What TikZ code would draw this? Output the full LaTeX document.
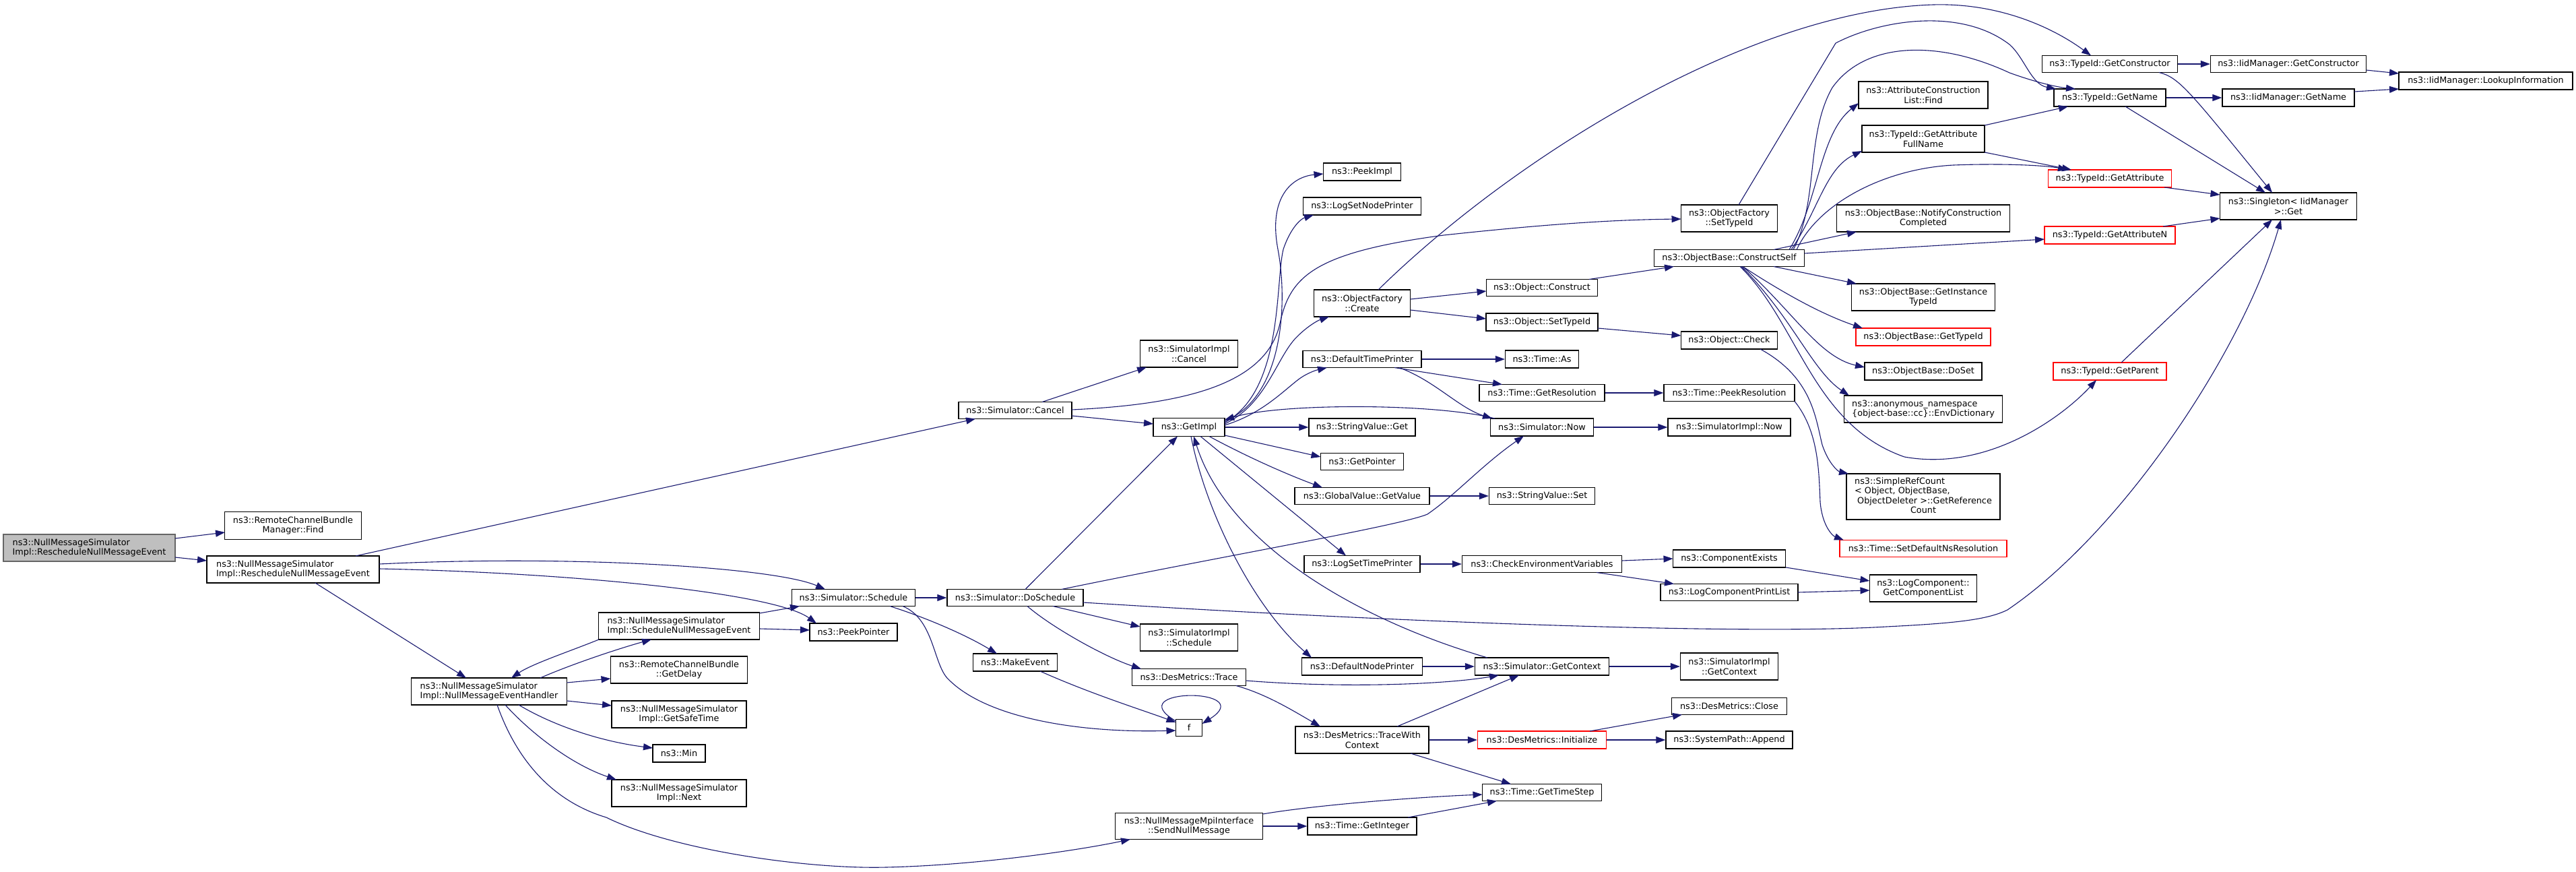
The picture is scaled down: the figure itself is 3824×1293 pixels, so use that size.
\documentclass[tikz,border=0pt]{standalone}
\usepackage{fontspec}
\setmainfont{DejaVu Sans}
\usetikzlibrary{arrows.meta,calc}
\definecolor{edgec}{RGB}{25,25,112}
\definecolor{rootfill}{RGB}{191,191,191}
\definecolor{rootline}{RGB}{102,102,102}
\tikzset{
  box/.style={draw=black, line width=1.3pt, fill=white, inner sep=0pt,
    font=\fontsize{12.8}{14.5}\selectfont, align=center},
  rbox/.style={box, draw=red},
  root/.style={box, fill=rootfill, draw=rootline},
  wh/.style 2 args={minimum width=#1pt, minimum height=#2pt},
  edge/.style={draw=edgec, line width=1.1pt, -{Triangle[length=14pt,width=10pt]}},
}
\begin{document}
\begin{tikzpicture}[x=1pt,y=-1pt]
\useasboundingbox (0,0) rectangle (3824,1293);
\fill[white] (0,0) rectangle (3824,1293);

% ---------- nodes ----------
\node[root, wh={255}{40}, align=left] (n0) at (132.5,813) {ns3::NullMessageSimulator\\Impl::RescheduleNullMessageEvent};
\node[box, wh={203}{41}] (find) at (435,780) {ns3::RemoteChannelBundle\\Manager::Find};
\node[box, wh={256}{40}, align=left] (n1) at (435,845) {ns3::NullMessageSimulator\\Impl::RescheduleNullMessageEvent};
\node[box, wh={231}{40}, align=left] (handler) at (726,1026) {ns3::NullMessageSimulator\\Impl::NullMessageEventHandler};
\node[box, wh={239}{40}, align=left] (snme) at (1008,929) {ns3::NullMessageSimulator\\Impl::ScheduleNullMessageEvent};
\node[box, wh={203}{40}] (getdelay) at (1008,994) {ns3::RemoteChannelBundle\\::GetDelay};
\node[box, wh={200}{40}] (safetime) at (1008,1060) {ns3::NullMessageSimulator\\Impl::GetSafeTime};
\node[box, wh={78}{26}] (min) at (1008,1118) {ns3::Min};
\node[box, wh={200}{40}] (next) at (1008,1177) {ns3::NullMessageSimulator\\Impl::Next};
\node[box, wh={168}{25}] (cancel) at (1507,609) {ns3::Simulator::Cancel};
\node[box, wh={145}{40}] (simcancel) at (1765,525) {ns3::SimulatorImpl\\::Cancel};
\node[box, wh={106}{27}] (getimpl) at (1765,634) {ns3::GetImpl};
\node[box, wh={183}{25}] (schedule) at (1267,887) {ns3::Simulator::Schedule};
\node[box, wh={202}{25}] (doschedule) at (1507,887) {ns3::Simulator::DoSchedule};
\node[box, wh={130}{26}] (peekpointer) at (1267,938) {ns3::PeekPointer};
\node[box, wh={125}{26}] (makeevent) at (1507,983) {ns3::MakeEvent};
\node[box, wh={145}{40}] (simschedule) at (1765,946) {ns3::SimulatorImpl\\::Schedule};
\node[box, wh={169}{25}] (trace) at (1765,1005) {ns3::DesMetrics::Trace};
\node[box, wh={39}{25}] (f) at (1765,1080) {f};
\node[box, wh={219}{39}] (sendnull) at (1765,1226) {ns3::NullMessageMpiInterface\\::SendNullMessage};
\node[box, wh={115}{26}] (peekimpl) at (2022,255) {ns3::PeekImpl};
\node[box, wh={175}{26}] (lognodep) at (2022,306) {ns3::LogSetNodePrinter};
\node[box, wh={143}{40}] (create) at (2022,450) {ns3::ObjectFactory\\::Create};
\node[box, wh={176}{25}] (dtp) at (2022,533) {ns3::DefaultTimePrinter};
\node[box, wh={158}{26}] (svget) at (2022,634) {ns3::StringValue::Get};
\node[box, wh={123}{25}] (getpointer) at (2022,685) {ns3::GetPointer};
\node[box, wh={200}{25}] (getvalue) at (2022,736) {ns3::GlobalValue::GetValue};
\node[box, wh={172}{25}] (logtimep) at (2022,837) {ns3::LogSetTimePrinter};
\node[box, wh={179}{26}] (dnp) at (2022,989) {ns3::DefaultNodePrinter};
\node[box, wh={198}{40}] (twc) at (2022,1098) {ns3::DesMetrics::TraceWith\\Context};
\node[box, wh={162}{26}] (getinteger) at (2022,1226) {ns3::Time::GetInteger};
\node[box, wh={165}{25}] (construct) at (2289,427) {ns3::Object::Construct};
\node[box, wh={166}{26}] (osettypeid) at (2289,478) {ns3::Object::SetTypeId};
\node[box, wh={109}{26}] (timeas) at (2289,533) {ns3::Time::As};
\node[box, wh={186}{25}] (getres) at (2289,583) {ns3::Time::GetResolution};
\node[box, wh={153}{26}] (now) at (2289,634) {ns3::Simulator::Now};
\node[box, wh={157}{25}] (svset) at (2289,736) {ns3::StringValue::Set};
\node[box, wh={237}{25}] (checkenv) at (2289,837) {ns3::CheckEnvironmentVariables};
\node[box, wh={199}{26}] (getcontext) at (2289,989) {ns3::Simulator::GetContext};
\node[rbox, wh={191}{26}] (init) at (2289,1098) {ns3::DesMetrics::Initialize};
\node[box, wh={177}{25}] (timestep) at (2289,1176) {ns3::Time::GetTimeStep};
\node[box, wh={143}{40}] (ofsettypeid) at (2567,324) {ns3::ObjectFactory\\::SetTypeId};
\node[box, wh={223}{25}] (constructself) at (2567,383) {ns3::ObjectBase::ConstructSelf};
\node[box, wh={143}{26}] (check) at (2567,505) {ns3::Object::Check};
\node[box, wh={194}{25}] (peekres) at (2567,583) {ns3::Time::PeekResolution};
\node[box, wh={182}{26}] (simnow) at (2567,634) {ns3::SimulatorImpl::Now};
\node[box, wh={167}{26}] (compexists) at (2567,829) {ns3::ComponentExists};
\node[box, wh={204}{25}] (printlist) at (2567,879) {ns3::LogComponentPrintList};
\node[box, wh={145}{40}] (simgetcontext) at (2567,989) {ns3::SimulatorImpl\\::GetContext};
\node[box, wh={171}{25}] (close) at (2567,1048) {ns3::DesMetrics::Close};
\node[box, wh={188}{26}] (append) at (2567,1098) {ns3::SystemPath::Append};
\node[box, wh={192}{40}] (acfind) at (2855,141) {ns3::AttributeConstruction\\List::Find};
\node[box, wh={182}{40}] (fullname) at (2855,206) {ns3::TypeId::GetAttribute\\FullName};
\node[box, wh={257}{40}] (notify) at (2855,324) {ns3::ObjectBase::NotifyConstruction\\Completed};
\node[box, wh={213}{40}] (instance) at (2855,441) {ns3::ObjectBase::GetInstance\\TypeId};
\node[rbox, wh={200}{26}] (obtypeid) at (2855,500) {ns3::ObjectBase::GetTypeId};
\node[box, wh={174}{26}] (doset) at (2855,551) {ns3::ObjectBase::DoSet};
\node[box, wh={235}{40}, align=left] (envdict) at (2855,607) {ns3::anonymous\_namespace\\\{object-base::cc\}::EnvDictionary};
\node[box, wh={228}{68}] (refcount) at (2855,737) {\begin{tabular}{@{}l@{}}ns3::SimpleRefCount\\< Object, ObjectBase,\\\ ObjectDeleter >::GetReference\\\multicolumn{1}{@{}c@{}}{Count}\end{tabular}};
\node[rbox, wh={248}{25}] (setdefault) at (2855,814) {ns3::Time::SetDefaultNsResolution};
\node[box, wh={159}{40}] (complist) at (2855,873) {ns3::LogComponent::\\GetComponentList};
\node[box, wh={201}{25}] (getctor) at (3132,95) {ns3::TypeId::GetConstructor};
\node[box, wh={166}{26}] (getname) at (3132,145) {ns3::TypeId::GetName};
\node[rbox, wh={183}{26}] (getattr) at (3132,265) {ns3::TypeId::GetAttribute};
\node[rbox, wh={194}{26}] (getattrn) at (3132,349) {ns3::TypeId::GetAttributeN};
\node[rbox, wh={168}{26}] (getparent) at (3132,551) {ns3::TypeId::GetParent};
\node[box, wh={231}{25}] (iidctor) at (3397,95) {ns3::IidManager::GetConstructor};
\node[box, wh={196}{26}] (iidname) at (3397,145) {ns3::IidManager::GetName};
\node[box, wh={203}{40}] (singleton) at (3397,306) {ns3::Singleton< IidManager\\ >::Get};
\node[box, wh={258}{26}] (lookup) at (3690,120) {ns3::IidManager::LookupInformation};

% ---------- edges ----------
\draw[edge] ($(n0)+(127.5,-14)$) -- ($(find)+(-101,10)$);
\draw[edge] ($(n0)+(127.5,14)$) -- ($(n1)+(-128,-13)$);
\draw[edge] ($(n1)+(93,-20)$) -- ($(cancel)+(-59,12.5)$);
\draw[edge] ($(n1)+(128,-8)$) .. controls (850,823) and (1150,842) .. ($(schedule)+(-42,-12.5)$);
\draw[edge] ($(n1)+(128,-1)$) .. controls (850,850) and (1150,880) .. ($(peekpointer)+(-55,-13)$);
\draw[edge] ($(n1)+(33,20)$) -- ($(handler)+(-34,-20)$);
\draw[edge] ($(handler)+(76,-20)$) .. controls (850,985) and (920,962) .. ($(snme)+(-41,20)$);
\draw[edge] ($(snme)+(-119,20)$) .. controls (850,965) and (790,985) .. ($(handler)+(33,-20)$);
\draw[edge] ($(handler)+(115.5,-13)$) -- ($(getdelay)+(-101.5,13)$);
\draw[edge] ($(handler)+(115.5,14)$) -- ($(safetime)+(-100,-13)$);
\draw[edge] ($(handler)+(44,20)$) .. controls (820,1076) and (890,1100) .. ($(min)+(-39,-8)$);
\draw[edge] ($(handler)+(24,20)$) .. controls (790,1090) and (850,1135) .. ($(next)+(-93,-20)$);
\draw[edge] ($(handler)+(12,20)$) .. controls (775,1150) and (840,1195) .. (900,1213)
   .. controls (1000,1262) and (1200,1290) .. (1315,1287)
   .. controls (1450,1284) and (1600,1262) .. ($(sendnull)+(-87,19.5)$);
\draw[edge] ($(snme)+(119.5,-19)$) -- ($(schedule)+(-80,12.5)$);
\draw[edge] ($(snme)+(119.5,4)$) -- ($(peekpointer)+(-65,-3)$);
\draw[edge] (schedule.east) -- (doschedule.west);
\draw[edge] ($(schedule)+(54,12.5)$) .. controls (1370,915) and (1430,940) .. ($(makeevent)+(-27,-13)$);
\draw[edge] ($(schedule)+(73,12.5)$) .. controls (1385,918) and (1385,980) .. (1405,1005)
   .. controls (1460,1065) and (1600,1088) .. ($(f)+(-19.5,4)$);
\draw[edge] ($(makeevent)+(37,13)$) .. controls (1620,1030) and (1700,1055) .. ($(f)+(-19.5,-8)$);
\draw[edge] ($(f)+(-19.5,-10)$) .. controls (1660,1020) and (1870,1020) .. ($(f)+(19.5,-6)$);
\draw[edge] ($(doschedule)+(15,-12.5)$) -- ($(getimpl)+(-17,13.5)$);
\draw[edge] ($(doschedule)+(69,-12.5)$) .. controls (1800,828) and (2080,780) .. (2119,763)
   .. controls (2160,735) and (2200,690) .. ($(now)+(-27,13)$);
\draw[edge] ($(doschedule)+(101,7)$) .. controls (2100,925) and (2600,942) .. (2800,930)
   .. controls (2900,925) and (2950,920) .. (2980,905)
   .. controls (3150,790) and (3330,520) .. ($(singleton)+(-11,20)$);
\draw[edge] ($(doschedule)+(56,12.5)$) -- ($(simschedule)+(-72.5,-16)$);
\draw[edge] ($(doschedule)+(18,12.5)$) .. controls (1560,930) and (1640,975) .. ($(trace)+(-71,-12.5)$);
\draw[edge] ($(cancel)+(40,-12.5)$) -- ($(simcancel)+(-63,20)$);
\draw[edge] ($(cancel)+(84,8)$) -- ($(getimpl)+(-53,-5)$);
\draw[edge] ($(cancel)+(84,-1)$) .. controls (1760,600) and (1880,570) .. (1900,480)
   .. controls (1915,410) and (1950,375) .. (2143,349)
   .. controls (2300,332) and (2400,326) .. ($(ofsettypeid)+(-71.5,1)$);
\draw[edge] ($(getimpl)+(53,-9)$) .. controls (1905,590) and (1912,450) .. (1897,370)
   .. controls (1882,290) and (1920,262) .. ($(peekimpl)+(-57.5,3)$);
\draw[edge] ($(getimpl)+(53,-7)$) .. controls (1905,580) and (1893,420) .. (1905,370)
   .. controls (1915,340) and (1930,325) .. ($(lognodep)+(-72,13)$);
\draw[edge] ($(getimpl)+(53,-5)$) .. controls (1880,600) and (1895,530) .. (1925,500)
   .. controls (1940,485) and (1955,476) .. ($(create)+(-49,20)$);
\draw[edge] ($(getimpl)+(53,-3)$) .. controls (1870,615) and (1900,585) .. (1925,565)
   .. controls (1940,553) and (1955,549) .. ($(dtp)+(-52,12.5)$);
\draw[edge] ($(now)+(-70,-13)$) .. controls (2130,598) and (1900,598) .. ($(getimpl)+(53,-11)$);
\draw[edge] (getimpl.east) -- (svget.west);
\draw[edge] ($(getimpl)+(53,12)$) -- ($(getpointer)+(-61.5,-7)$);
\draw[edge] ($(getimpl)+(30,13.5)$) .. controls (1840,672) and (1900,700) .. ($(getvalue)+(-59,-12.5)$);
\draw[edge] ($(getimpl)+(17,13.5)$) -- ($(logtimep)+(-24,-12.5)$);
\draw[edge] ($(getimpl)+(3,13.5)$) .. controls (1790,760) and (1860,900) .. ($(dnp)+(-75,-13)$);
\draw[edge] ($(getcontext)+(-81,-13)$) .. controls (2000,915) and (1820,800) .. ($(getimpl)+(7,13.5)$);
\draw[edge] (dtp.east) -- (timeas.west);
\draw[edge] ($(dtp)+(48,12.5)$) -- ($(getres)+(-59,-12.5)$);
\draw[edge] ($(dtp)+(55,12.5)$) .. controls (2130,565) and (2165,605) .. ($(now)+(-74,-13)$);
\draw[edge] (getres.east) -- (peekres.west);
\draw[edge] (now.east) -- (simnow.west);
\draw[edge] (getvalue.east) -- (svset.west);
\draw[edge] (logtimep.east) -- (checkenv.west);
\draw[edge] ($(checkenv)+(118.5,-5)$) -- ($(compexists)+(-83.5,0)$);
\draw[edge] ($(checkenv)+(81,12.5)$) -- ($(printlist)+(-82,-12.5)$);
\draw[edge] ($(compexists)+(84,13)$) -- ($(complist)+(-79.5,-11)$);
\draw[edge] ($(printlist)+(102,0)$) -- ($(complist)+(-79.5,3)$);
\draw[edge] (dnp.east) -- (getcontext.west);
\draw[edge] (getcontext.east) -- (simgetcontext.west);
\draw[edge] ($(trace)+(84.5,5)$) .. controls (2000,1022) and (2150,1015) .. ($(getcontext)+(-64,13)$);
\draw[edge] ($(trace)+(70,12.5)$) .. controls (1880,1030) and (1920,1055) .. ($(twc)+(-62,-20)$);
\draw[edge] ($(twc)+(52,-20)$) -- ($(getcontext)+(-34,13)$);
\draw[edge] (twc.east) -- (init.west);
\draw[edge] ($(twc)+(72,20)$) -- ($(timestep)+(-46,-12.5)$);
\draw[edge] ($(init)+(71,-13)$) -- ($(close)+(-70,12.5)$);
\draw[edge] (init.east) -- (append.west);
\draw[edge] ($(sendnull)+(109.5,-18)$) .. controls (1950,1195) and (2100,1183) .. ($(timestep)+(-88.5,3)$);
\draw[edge] (sendnull.east) -- (getinteger.west);
\draw[edge] ($(getinteger)+(68,-13)$) -- ($(timestep)+(-67,12.5)$);
\draw[edge] ($(create)+(71.5,-6)$) -- ($(construct)+(-82.5,5)$);
\draw[edge] ($(create)+(71.5,10)$) -- ($(osettypeid)+(-83,-5)$);
\draw[edge] ($(create)+(24,-20)$) .. controls (2250,230) and (2600,15) .. (2870,7)
   .. controls (2980,4) and (3060,50) .. ($(getctor)+(-28,-12.5)$);
\draw[edge] ($(construct)+(70,-12.5)$) -- ($(constructself)+(-82,12.5)$);
\draw[edge] ($(osettypeid)+(83,9)$) -- ($(check)+(-71.5,-7)$);
\draw[edge] ($(ofsettypeid)+(14,-20)$) -- (2725,64)
   .. controls (2790,30) and (2910,10) .. (2983,66)
   .. controls (3005,85) and (3015,125) .. ($(getname)+(-80,-13)$);
\draw[edge] ($(constructself)+(95,-12.5)$) .. controls (2700,300) and (2680,200) .. (2720,130)
   .. controls (2770,60) and (2880,60) .. (2983,108)
   .. controls (3030,125) and (3060,130) .. ($(getname)+(-51,-13)$);
\draw[edge] ($(constructself)+(89,-12.5)$) .. controls (2700,300) and (2700,200) .. ($(acfind)+(-96,12)$);
\draw[edge] ($(constructself)+(92,-12.5)$) .. controls (2700,310) and (2710,250) .. ($(fullname)+(-91,18)$);
\draw[edge] ($(constructself)+(100,-12.5)$) .. controls (2700,300) and (2800,250) .. (2900,245)
   .. controls (2980,242) and (3040,246) .. ($(getattr)+(-63,-13)$);
\draw[edge] ($(fullname)+(91,-20)$) -- ($(getname)+(-62,13)$);
\draw[edge] ($(fullname)+(91,20)$) -- ($(getattr)+(-57,-13)$);
\draw[edge] ($(constructself)+(66,-12.5)$) -- ($(notify)+(-99,20)$);
\draw[edge] ($(constructself)+(111.5,-7)$) -- ($(getattrn)+(-97,6)$);
\draw[edge] ($(constructself)+(66,12.5)$) -- ($(instance)+(-99,-20)$);
\draw[edge] ($(constructself)+(20,12.5)$) .. controls (2640,430) and (2700,465) .. ($(obtypeid)+(-90,-13)$);
\draw[edge] ($(constructself)+(20,12.5)$) .. controls (2660,460) and (2700,530) .. ($(doset)+(-87,-6)$);
\draw[edge] ($(constructself)+(18,12.5)$) .. controls (2660,470) and (2690,550) .. ($(envdict)+(-110,-20)$);
\draw[edge] ($(constructself)+(16,12.5)$) .. controls (2670,480) and (2690,630) .. (2827,678)
   .. controls (2950,700) and (3060,620) .. ($(getparent)+(-20,13)$);
\draw[edge] ($(check)+(46,13)$) .. controls (2690,560) and (2695,620) .. (2705,660)
   .. controls (2715,690) and (2730,700) .. ($(refcount)+(-111,-34)$);
\draw[edge] ($(peekres)+(97,12.5)$) .. controls (2700,640) and (2700,700) .. (2702,745)
   .. controls (2705,780) and (2720,795) .. ($(setdefault)+(-118,-12.5)$);
\draw[edge] (getctor.east) -- (iidctor.west);
\draw[edge] (getname.east) -- (iidname.west);
\draw[edge] ($(getctor)+(73,12.5)$) .. controls (3235,115) and (3250,135) .. ($(singleton)+(-24,-20)$);
\draw[edge] ($(getname)+(23,13)$) -- ($(singleton)+(-34,-20)$);
\draw[edge] ($(iidctor)+(115.5,9)$) -- ($(lookup)+(-129,-11)$);
\draw[edge] ($(iidname)+(98,-9)$) -- ($(lookup)+(-129,12)$);
\draw[edge] ($(getattr)+(81,13)$) -- ($(singleton)+(-101.5,-17)$);
\draw[edge] ($(getattrn)+(79,-13)$) -- ($(singleton)+(-101.5,18)$);
\draw[edge] ($(getparent)+(17,-13)$) -- ($(singleton)+(-24,20)$);
\end{tikzpicture}
\end{document}
